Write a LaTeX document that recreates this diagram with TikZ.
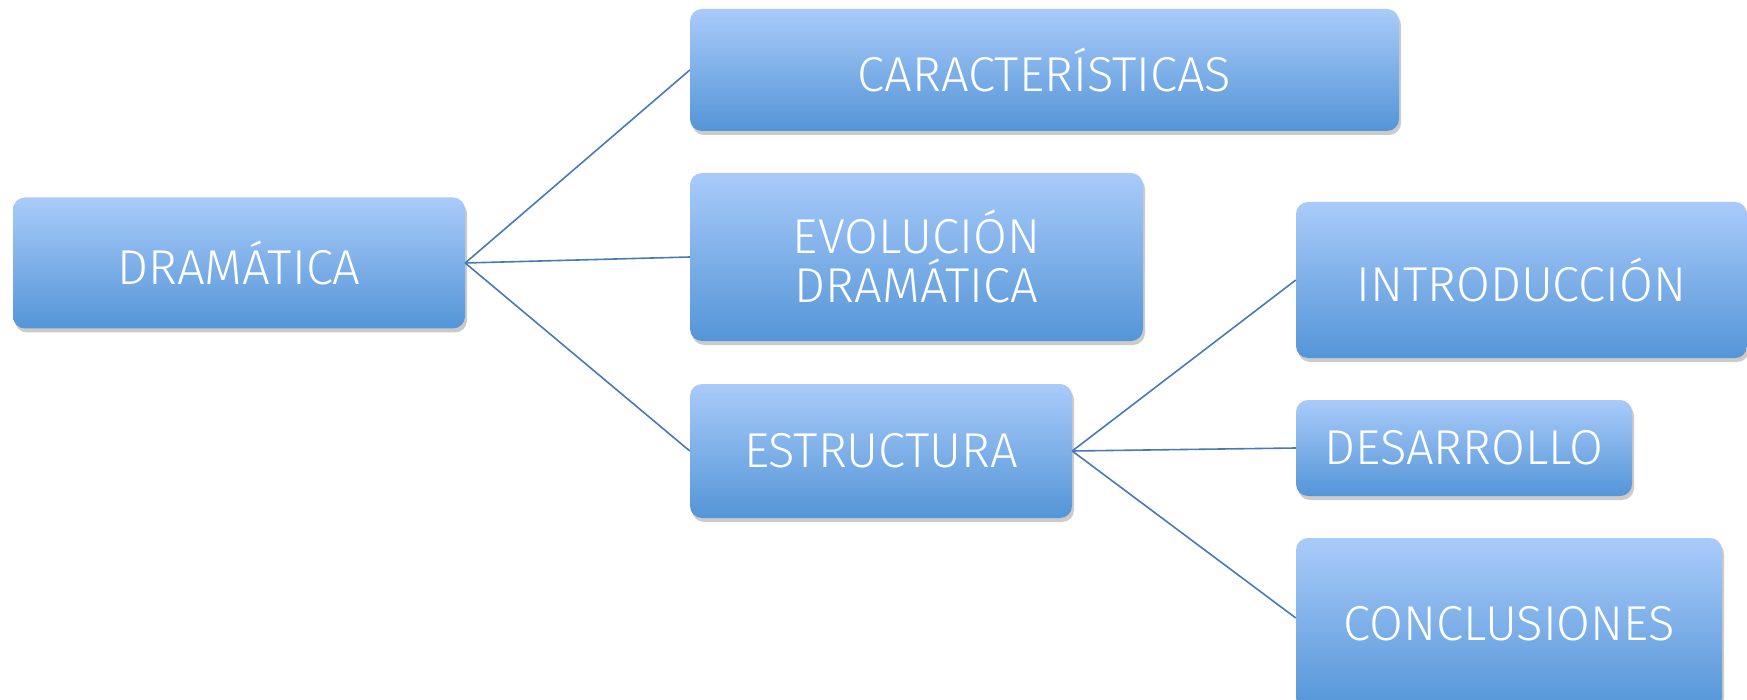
\documentclass[tikz,border=0pt]{standalone}
\usepackage{fontspec}
\setmainfont{Fira Sans Light}
\usetikzlibrary{shadows}
\definecolor{boxtop}{HTML}{A9CBFA}
\definecolor{boxbot}{HTML}{5495D7}
\definecolor{linkc}{HTML}{4A7AB4}
\tikzset{
  box/.style={rounded corners=12pt, top color=boxtop, bottom color=boxbot, draw=none,
    text=white, font=\fontsize{49}{49}\selectfont, align=center, inner sep=0pt,
    drop shadow={opacity=0.25, shadow xshift=2pt, shadow yshift=-4pt, fill=black!80}},
  link/.style={draw=linkc, line width=1.6pt}
}
\begin{document}
\begin{tikzpicture}[x=1pt,y=-1pt]
\useasboundingbox (0,0) rectangle (1747,700);
\fill[white] (0,0) rectangle (1747,700);
\node[box, minimum width=452pt, minimum height=131pt] (dra) at (239,263) {DRAMÁTICA};
\node[box, minimum width=709pt, minimum height=122pt] (car) at (1044.5,70) {CARACTERÍSTICAS};
\node[box, minimum width=453pt, minimum height=168pt] (evo) at (916.5,257) {EVOLUCIÓN\\DRAMÁTICA};
\node[box, minimum width=382pt, minimum height=134pt] (est) at (881,451) {ESTRUCTURA};
\node[box, minimum width=451pt, minimum height=156pt] (int) at (1521.5,280) {INTRODUCCIÓN};
\node[box, minimum width=336pt, minimum height=96pt] (des) at (1464,448) {DESARROLLO};
\node[box, minimum width=426pt, minimum height=172pt] (con) at (1509,624) {CONCLUSIONES};
\draw[link] (dra.east) -- (car.west);
\draw[link] (dra.east) -- (evo.west);
\draw[link] (dra.east) -- (est.west);
\draw[link] (est.east) -- (int.west);
\draw[link] (est.east) -- (des.west);
\draw[link] (est.east) -- (con.west |- 0,618);
\end{tikzpicture}
\end{document}
